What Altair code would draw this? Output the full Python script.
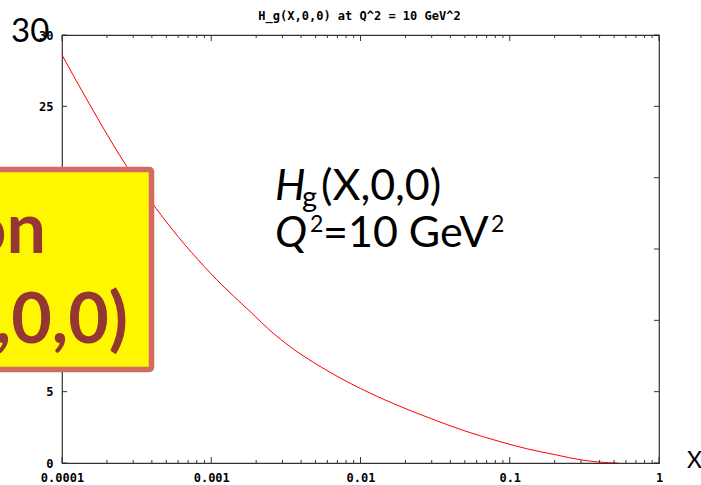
import altair as alt
import pandas as pd

# ---- data ----
x_vals = [1e-4, 1.5e-4, 2.71e-4, 5e-4, 1.09e-3, 1.82e-3, 2.6e-3, 3.37e-3, 5.5e-3,
          1e-2, 1.7e-2, 2.92e-2, 5e-2, 8.6e-2, 0.13, 0.206, 0.3, 0.4, 0.53]
hg_vals = [28.6, 25.3, 20.8, 16.9, 12.84, 10.62, 9.1, 8.16, 6.7,
           5.22, 4.12, 3.14, 2.25, 1.5, 1.0, 0.56, 0.22, 0.06, 0.0]
x_major = [1e-4, 1e-3, 1e-2, 1e-1, 1.0]
y_major = [0, 5, 10, 15, 20, 25, 30]
x_minor = [d * m for d in x_major[:-1] for m in range(2, 10)]

title_text = ["H_g(X,0,0) at Q^2 = 10 GeV^2"]

W, H = 597, 428
xscale = alt.Scale(type="log", domain=[1e-4, 1], nice=False)
yscale = alt.Scale(domain=[0, 30], nice=False, zero=False)

AX_FONT = "DejaVu Sans Mono"
x_axis = alt.Axis(values=x_major, format="~g", title=None, ticks=False, domain=False, grid=False,
                  labelFont=AX_FONT, labelFontWeight="bold", labelFontSize=12, labelColor="#000",
                  labelPadding=9, labelFlush=False)
y_axis = alt.Axis(values=y_major, title=None, ticks=False, domain=False, grid=False,
                  labelFont=AX_FONT, labelFontWeight="bold", labelFontSize=12, labelColor="#000",
                  labelPadding=9)

curve = alt.Chart(pd.DataFrame({"x": x_vals, "y": hg_vals})).mark_line(
    color="#ff0000", strokeWidth=1, interpolate="monotone", clip=True
).encode(
    x=alt.X("x:Q", scale=xscale, axis=x_axis),
    y=alt.Y("y:Q", scale=yscale, axis=y_axis),
)

def xticks(vals, y0, y1):
    return alt.Chart(pd.DataFrame({"x": vals})).mark_rule(color="#333", strokeWidth=1).encode(
        x=alt.X("x:Q", scale=xscale, axis=x_axis), y=alt.value(y0), y2=alt.value(y1))

def yticks(vals, x0, x1):
    return alt.Chart(pd.DataFrame({"y": vals})).mark_rule(color="#333", strokeWidth=1).encode(
        y=alt.Y("y:Q", scale=yscale, axis=y_axis), x=alt.value(x0), x2=alt.value(x1))

ticks = [
    xticks(x_major, H, H - 6), xticks(x_major, 0, 6),
    xticks(x_minor, H, H - 3), xticks(x_minor, 0, 3),
    yticks(y_major, 0, 5), yticks(y_major, W, W - 5),
]

def txt(s, x, y, size, font="Lato", weight="normal", style="normal", color="#000", align="left"):
    return alt.Chart(pd.DataFrame({"t": [s]})).mark_text(
        font=font, fontSize=size, fontWeight=weight, fontStyle=style, color=color,
        align=align, baseline="alphabetic"
    ).encode(text="t:N", x=alt.value(x), y=alt.value(y))

title = alt.Chart(pd.DataFrame({"t": title_text})).mark_text(
    font=AX_FONT, fontSize=12, fontWeight="bold", color="#000", align="center", baseline="alphabetic"
).encode(text="t:N", x=alt.value(W / 2 - 1), y=alt.value(-15))

box = alt.Chart(pd.DataFrame({"a": [0]})).mark_rect(
    fill="#fff700", stroke="#d36b62", strokeWidth=5.5, cornerRadius=2
).encode(x=alt.value(-120), x2=alt.value(89.5), y=alt.value(134.5), y2=alt.value(334.5))

BOX_C = "#943634"
labels = [
    txt("Gluon", -16, 218, 70, weight="bold", color=BOX_C, align="right"),
    txt("Hg(X,0,0)", 66, 308, 70, weight="bold", color=BOX_C, align="right"),
    txt("H", 213, 165, 43, style="italic"),
    txt("g", 240, 172, 29),
    txt("(X,0,0)", 259, 165, 43),
    txt("Q", 213, 212, 43, style="italic"),
    txt("2", 248, 197, 23),
    txt("=10 GeV", 261, 212, 43),
    txt("2", 429, 197, 23),
    txt("30", -51, 7, 33),
    txt("X", 625, 433, 23),
]

chart = alt.layer(curve, *ticks, title, box, *labels).properties(
    width=W, height=H,
    autosize=alt.AutoSizeParams(type="none"),
    padding={"left": 62, "top": 35, "right": 42, "bottom": 22},
    background="#ffffff",
).configure_view(stroke="#333", strokeWidth=1.2)

chart.save("out.html", embed_options={"renderer": "svg", "actions": False})
